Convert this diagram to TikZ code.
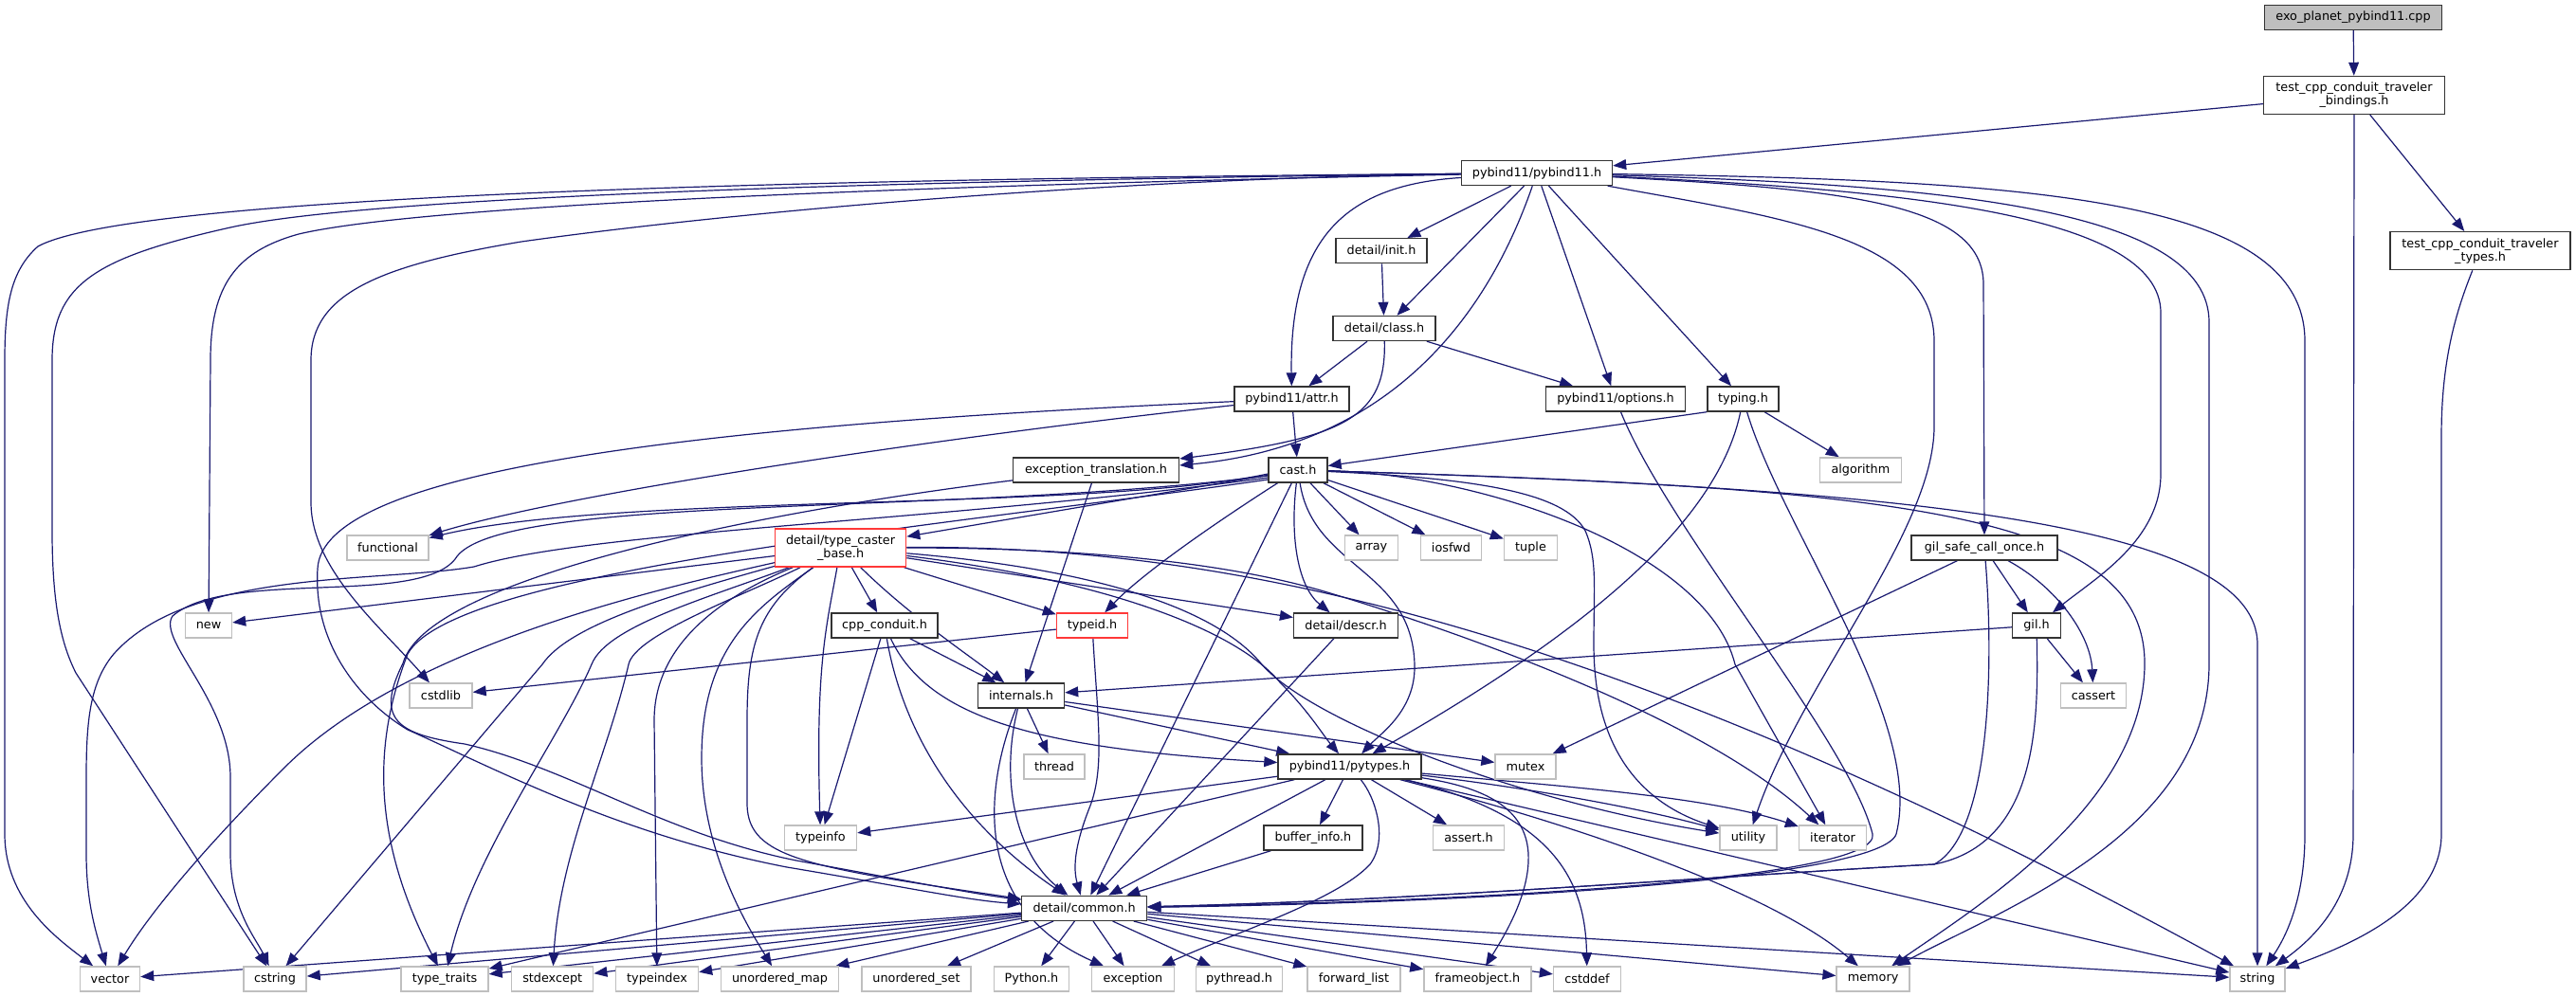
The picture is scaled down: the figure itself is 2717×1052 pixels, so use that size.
\documentclass[tikz,border=0pt]{standalone}
\usepackage{fontspec}
\setmainfont{DejaVu Sans}
\usetikzlibrary{arrows.meta,calc}
\definecolor{edgec}{HTML}{191970}
\definecolor{grayb}{HTML}{BFBFBF}
\definecolor{nodeb}{HTML}{333333}
\definecolor{redb}{HTML}{FF3838}
\pgfdeclarelayer{bgl}
\pgfdeclarelayer{edges}
\pgfsetlayers{bgl,edges,main}
\begin{document}
\begin{tikzpicture}[x=0.5pt,y=-0.5pt,
  base/.style={rectangle, inner sep=0pt, minimum height=13pt, font=\fontsize{6.4pt}{7pt}\selectfont, line width=0.7pt, fill=white},
  nd/.style={base, draw=nodeb},
  sys/.style={base, draw=grayb},
  trunc/.style={base, draw=redb},
  rootn/.style={base, draw=nodeb, fill=grayb},
  two/.style={minimum height=20pt, align=center},
  edge/.style={draw=edgec, line width=0.6pt, -{Triangle[length=7pt,width=5.4pt]}},
]
\begin{pgfonlayer}{bgl}
\fill[white] (0,0) rectangle (2717,1052);
\end{pgfonlayer}
\useasboundingbox (0,0) rectangle (2717,1052);

% ---------------- nodes ----------------
\node[rootn, minimum width=93.5pt] (exo) at (2482,18.5) {exo\_planet\_pybind11.cpp};
\node[nd, two, minimum width=95.5pt] (bind) at (2483,100.5) {test\_cpp\_conduit\_traveler\\\_bindings.h};
\node[nd, two, minimum width=95pt] (types) at (2616,264.7) {test\_cpp\_conduit\_traveler\\\_types.h};
\node[nd, minimum width=79.5pt] (pyb) at (1621,182.5) {pybind11/pybind11.h};
\node[nd, minimum width=48pt] (init) at (1457,264.7) {detail/init.h};
\node[nd, minimum width=54pt] (class) at (1460,346.5) {detail/class.h};
\node[nd, minimum width=60.5pt] (attr) at (1362.5,421) {pybind11/attr.h};
\node[nd, minimum width=73.5pt] (options) at (1704,421) {pybind11/options.h};
\node[nd, minimum width=37.5pt] (typing) at (1838.5,421) {typing.h};
\node[nd, minimum width=87.5pt] (exct) at (1156,496) {exception\_translation.h};
\node[nd, minimum width=31pt] (cast) at (1369,496) {cast.h};
\node[sys, minimum width=43pt] (algorithm) at (1962.4,496) {algorithm};
\node[trunc, two, minimum width=69pt] (tcb) at (886.6,578) {detail/type\_caster\\\_base.h};
\node[sys, minimum width=43pt] (functional) at (409,578) {functional};
\node[sys, minimum width=28pt] (array) at (1446.5,578) {array};
\node[sys, minimum width=32pt] (iosfwd) at (1530.4,578) {iosfwd};
\node[sys, minimum width=28pt] (tuple) at (1614.5,578) {tuple};
\node[nd, minimum width=77pt] (gsco) at (2093,578) {gil\_safe\_call\_once.h};
\node[sys, minimum width=24.5pt] (new) at (220,660) {new};
\node[nd, minimum width=56pt] (cppc) at (933,660) {cpp\_conduit.h};
\node[trunc, minimum width=37.5pt] (typeid) at (1152,660) {typeid.h};
\node[nd, minimum width=55pt] (descr) at (1419.6,660) {detail/descr.h};
\node[nd, minimum width=25.5pt] (gil) at (2148,660) {gil.h};
\node[sys, minimum width=33pt] (cstdlib) at (465,734) {cstdlib};
\node[nd, minimum width=45.5pt] (internals) at (1077,734) {internals.h};
\node[sys, minimum width=34.5pt] (cassert) at (2208,734) {cassert};
\node[sys, minimum width=32pt] (thread) at (1112,809) {thread};
\node[nd, minimum width=75.5pt] (pytypes) at (1423.5,809) {pybind11/pytypes.h};
\node[sys, minimum width=32pt] (mutex) at (1609,809) {mutex};
\node[sys, minimum width=38pt] (typeinfo) at (865.5,884) {typeinfo};
\node[nd, minimum width=52pt] (buffer) at (1385,884) {buffer\_info.h};
\node[sys, minimum width=37.5pt] (asserth) at (1549,884) {assert.h};
\node[sys, minimum width=30pt] (utility) at (1844,884) {utility};
\node[sys, minimum width=35.5pt] (iterator) at (1933,884) {iterator};
\node[nd, minimum width=66pt] (common) at (1143.6,958.3) {detail/common.h};
\node[sys, minimum width=31.5pt] (vector) at (116,1033) {vector};
\node[sys, minimum width=33pt] (cstring) at (290,1033) {cstring};
\node[sys, minimum width=46pt] (typetraits) at (469,1033) {type\_traits};
\node[sys, minimum width=43pt] (stdexcept) at (582.7,1033) {stdexcept};
\node[sys, minimum width=43.5pt] (typeindex) at (693,1033) {typeindex};
\node[sys, minimum width=62pt] (umap) at (822.5,1033) {unordered\_map};
\node[sys, minimum width=57.5pt] (uset) at (966.5,1033) {unordered\_set};
\node[sys, minimum width=39.5pt] (pythonh) at (1088,1033) {Python.h};
\node[sys, minimum width=43.5pt] (exception) at (1195,1033) {exception};
\node[sys, minimum width=45.5pt] (pythread) at (1307,1033) {pythread.h};
\node[sys, minimum width=49pt] (flist) at (1428,1033) {forward\_list};
\node[sys, minimum width=56.5pt] (frameobj) at (1558.4,1033) {frameobject.h};
\node[sys, minimum width=35.5pt] (cstddef) at (1674,1033) {cstddef};
\node[sys, minimum width=38.5pt] (memory) at (1975.6,1033) {memory};
\node[sys, minimum width=29pt] (string) at (2381,1033) {string};

% ---------------- edges ----------------
\begin{pgfonlayer}{edges}
% exo / bindings / types
\draw[edge] (exo) -- (bind);
\draw[edge] (bind) -- (pyb);
\draw[edge] (bind) -- (types);
\draw[edge] (bind) -- (2482,880) .. controls (2482,950) and (2440,990) .. (string);
\draw[edge] (types) .. controls (2590,330) and (2575,380) .. (2575,460) -- (2575,880) .. controls (2575,960) and (2470,1000) .. (string);

% pybind11.h
\draw[edge] (pyb) -- (init);
\draw[edge] (pyb) -- (class);
\draw[edge] (pyb) .. controls (1420,195) and (1360,250) .. (attr);
\draw[edge] (pyb) .. controls (1570,330) and (1470,470) .. ([yshift=2.5pt]exct.east);
\draw[edge] (pyb) -- (options);
\draw[edge] (pyb) -- (typing);
\draw[edge] (pyb) .. controls (1000,188) and (150,200) .. (40,260) .. controls (12,285) and (5,320) .. (5,380) -- (5,880) .. controls (5,950) and (60,990) .. (vector);
\draw[edge] (pyb) .. controls (1000,190) and (400,205) .. (243,240) .. controls (100,272) and (55,300) .. (55,380) -- (55,560) .. controls (55,640) and (65,680) .. (80,710) -- (cstring);
\draw[edge] (pyb) .. controls (1000,195) and (450,215) .. (315,247) .. controls (250,265) and (222,300) .. (222,380) -- (new);
\draw[edge] (pyb) .. controls (1200,188) and (800,220) .. (550,255) .. controls (400,280) and (328,310) .. (328,380) -- (328,530) .. controls (328,600) and (400,660) .. (cstdlib);
\draw[edge] (pyb) .. controls (2000,200) and (2279,225) .. (2279,330) -- (2279,500) .. controls (2279,570) and (2210,610) .. (gil);
\draw[edge] (pyb) .. controls (1950,200) and (2092,215) .. (2092,300) -- (gsco);
\draw[edge] (pyb) .. controls (1880,230) and (2040,250) .. (2040,360) -- (2040,450) .. controls (2040,560) and (1900,720) .. (utility);
\draw[edge] (pyb) .. controls (2050,195) and (2330,220) .. (2330,340) -- (2330,700) .. controls (2330,880) and (2110,960) .. (memory);
\draw[edge] (pyb) .. controls (2150,190) and (2431,210) .. (2431,360) -- (2431,880) .. controls (2431,950) and (2410,990) .. (string);

% init / class
\draw[edge] (init) -- (class);
\draw[edge] (class) -- (attr);
\draw[edge] (class) -- (options);
\draw[edge] (class) .. controls (1462,440) and (1420,462) .. ([yshift=6pt]exct.east);

% attr
\draw[edge] (attr) -- (cast);
\draw[edge] (attr) .. controls (1000,460) and (600,520) .. (functional);
\draw[edge] (attr) .. controls (700,450) and (340,500) .. (335,600) .. controls (330,680) and (380,740) .. (430,770) .. controls (520,810) and (650,880) .. (830,915) .. controls (950,935) and (1020,950) .. (common);

% options / typing
\draw[edge] (options) .. controls (1760,560) and (1950,780) .. (1975,880) .. controls (1985,925) and (1600,950) .. (common);
\draw[edge] (typing.south west) -- (cast);
\draw[edge] (typing) -- (algorithm);
\draw[edge] (typing) .. controls (1810,560) and (1650,680) .. (pytypes);
\draw[edge] (typing) .. controls (1880,560) and (2030,760) .. (2000,880) .. controls (1985,925) and (1600,952) .. (common);

% exception_translation
\draw[edge] (exct) -- (internals);
\draw[edge] (exct) .. controls (800,540) and (450,610) .. (425,700) .. controls (395,760) and (420,775) .. (490,785) .. controls (600,810) and (700,880) .. (840,908) .. controls (950,928) and (1020,942) .. (common);

% cast
\draw[edge] (cast) -- (array);
\draw[edge] (cast) -- (iosfwd);
\draw[edge] (cast) -- (tuple);
\draw[edge] (cast) .. controls (1360,570) and (1370,620) .. (descr);
\draw[edge] (cast) -- (tcb);
\draw[edge] (cast) .. controls (1300,540) and (1210,600) .. (typeid);
\draw[edge] (cast) -- (common);
\draw[edge] (cast) .. controls (1385,600) and (1490,600) .. (1492,702) .. controls (1493,750) and (1455,775) .. (pytypes);
\draw[edge] (cast) .. controls (1560,505) and (1650,520) .. (1672,560) .. controls (1685,590) and (1681,620) .. (1681,680) .. controls (1681,800) and (1740,850) .. (utility);
\draw[edge] (cast) .. controls (1560,500) and (1800,580) .. (1830,701) -- (iterator);
\draw[edge] (cast) .. controls (2000,515) and (2381,550) .. (2381,680) -- (string);
\draw[edge] (cast) .. controls (2000,515) and (2262,540) .. (2262,700) .. controls (2262,850) and (2080,960) .. (memory);
\draw[edge] ([yshift=-2pt]cast.west) .. controls (1150,540) and (650,520) .. (functional);
\draw[edge] ([yshift=-3pt]cast.west) .. controls (1000,545) and (520,520) .. (480,590) .. controls (440,640) and (240,600) .. (182,650) .. controls (165,675) and (243,740) .. (243,820) -- (243,900) .. controls (243,960) and (270,990) .. (cstring);
\draw[edge] ([yshift=-4pt]cast.west) .. controls (1000,550) and (620,560) .. (500,598) .. controls (400,615) and (200,600) .. (120,690) .. controls (95,720) and (91,760) .. (91,820) -- (91,900) .. controls (91,950) and (100,980) .. (vector);
\draw[edge] ([yshift=-5pt]cast.west) .. controls (1000,555) and (480,600) .. (430,690) .. controls (395,780) and (390,880) .. (typetraits);

% type_caster_base
\draw[edge] (tcb) -- (cppc);
\draw[edge] (tcb) -- (typeid);
\draw[edge] (tcb) -- (descr);
\draw[edge] (tcb) .. controls (960,650) and (1020,690) .. (internals);
\draw[edge] (tcb) .. controls (1150,610) and (1300,660) .. (1350,720) .. controls (1380,750) and (1395,775) .. (pytypes);
\draw[edge] (tcb) .. controls (800,640) and (788,680) .. (788,760) -- (788,850) .. controls (790,905) and (850,915) .. (common);
\draw[edge] (tcb) -- (new);
\draw[edge] (tcb) .. controls (700,620) and (430,680) .. (300,810) .. controls (220,890) and (160,960) .. (vector);
\draw[edge] (tcb) .. controls (700,630) and (600,660) .. (572,701) -- (cstring);
\draw[edge] (tcb) .. controls (750,630) and (640,660) .. (624,701) .. controls (590,780) and (500,900) .. (typetraits);
\draw[edge] (tcb) .. controls (780,630) and (670,670) .. (663,701) .. controls (640,800) and (590,900) .. (stdexcept);
\draw[edge] (tcb) .. controls (760,630) and (690,680) .. (690,760) -- (typeindex);
\draw[edge] (tcb) .. controls (800,640) and (740,680) .. (740,800) .. controls (740,900) and (790,980) .. (umap);
\draw[edge] (tcb) .. controls (872,660) and (860,700) .. (typeinfo);
\draw[edge] (tcb) .. controls (1150,578) and (1300,595) .. (1400,625) .. controls (1550,670) and (1800,760) .. (iterator);
\draw[edge] (tcb) .. controls (1150,600) and (1280,640) .. (1330,700) .. controls (1380,760) and (1600,845) .. (utility);
\draw[edge] (tcb) .. controls (1300,575) and (1700,660) .. (string);

% cpp_conduit
\draw[edge] (cppc) -- (typeinfo);
\draw[edge] (cppc) -- (internals);
\draw[edge] (cppc) .. controls (950,760) and (1000,860) .. (common);
\draw[edge] (cppc) .. controls (980,760) and (1100,790) .. (pytypes);

% typeid / descr
\draw[edge] (typeid) -- (cstdlib);
\draw[edge] (typeid) .. controls (1158,760) and (1165,810) .. (1150,850) .. controls (1138,880) and (1130,910) .. (common);
\draw[edge] (descr) -- (common);

% internals
\draw[edge] (internals) -- (thread);
\draw[edge] (internals) -- (mutex);
\draw[edge] (internals) -- (pytypes);
\draw[edge] (internals) .. controls (1055,820) and (1070,900) .. (common);
\draw[edge] (internals) .. controls (1035,840) and (1030,960) .. (exception);

% pytypes
\draw[edge] (pytypes) -- (buffer);
\draw[edge] (pytypes) -- (asserth);
\draw[edge] (pytypes) .. controls (1600,830) and (1720,850) .. (utility);
\draw[edge] (pytypes) .. controls (1650,830) and (1800,840) .. (iterator);
\draw[edge] (pytypes) .. controls (1700,880) and (1880,950) .. (memory);
\draw[edge] (pytypes) -- (string);
\draw[edge] (pytypes) .. controls (1640,860) and (1672,930) .. (cstddef);
\draw[edge] (pytypes) .. controls (1560,830) and (1615,850) .. (1612,910) .. controls (1610,950) and (1585,990) .. (frameobj);
\draw[edge] (pytypes) .. controls (1450,840) and (1465,885) .. (1445,912) .. controls (1410,950) and (1300,985) .. (exception);
\draw[edge] (pytypes) -- (common);
\draw[edge] (pytypes) -- (typeinfo);
\draw[edge] (pytypes) -- (typetraits);
\draw[edge] (buffer) -- (common);

% gil_safe_call_once / gil
\draw[edge] (gsco) -- (gil);
\draw[edge] (gsco) .. controls (2170,620) and (2205,670) .. (cassert);
\draw[edge] (gsco) -- (mutex);
\draw[edge] (gsco) .. controls (2103,700) and (2100,880) .. (2040,912) .. controls (1800,925) and (1500,950) .. (common);
\draw[edge] (gil) -- (cassert);
\draw[edge] (gil) -- (internals);
\draw[edge] (gil) .. controls (2150,760) and (2150,890) .. (2040,912) .. controls (1800,925) and (1500,950) .. (common);

% common
\foreach \t in {vector,cstring,typetraits,stdexcept,typeindex,umap,uset,pythonh,exception,pythread,flist,frameobj,cstddef,memory,string}
  \draw[edge] (common) -- (\t);
\end{pgfonlayer}
\end{tikzpicture}
\end{document}
